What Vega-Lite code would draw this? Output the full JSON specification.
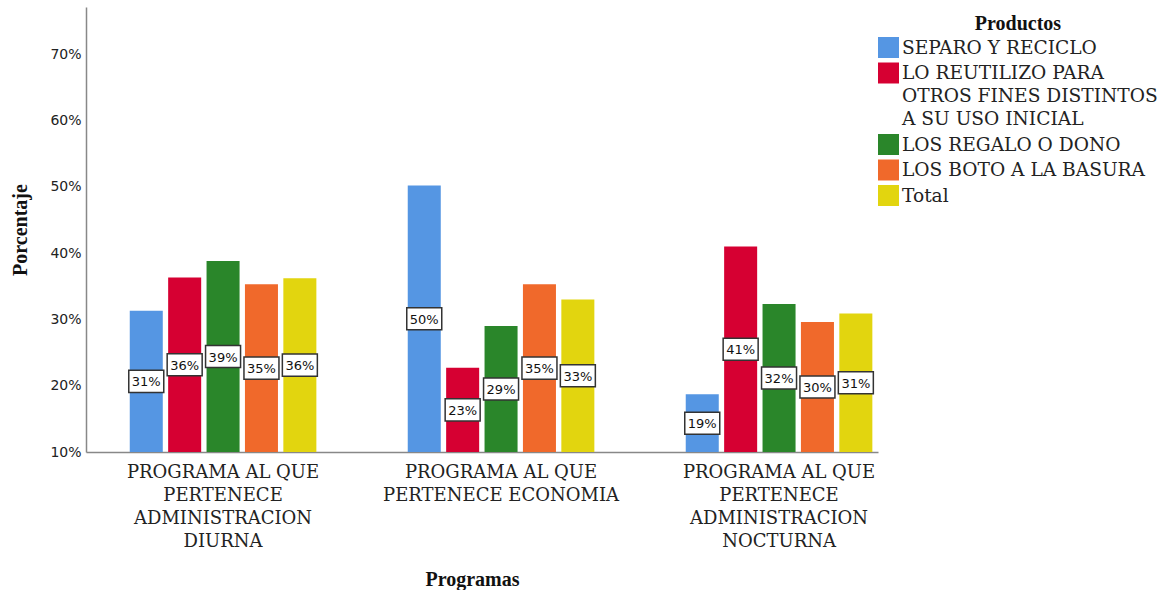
{
  "$schema": "https://vega.github.io/schema/vega-lite/v6.json",
  "width": 792,
  "height": 445,
  "autosize": {"type": "none"},
  "padding": {"left": 86, "top": 7, "right": 288, "bottom": 138},
  "background": "white",
  "config": {
    "view": {"stroke": null},
    "font": "Liberation Serif",
    "axisY": {
      "title": "Porcentaje",
      "titleFont": "Liberation Serif",
      "titleFontSize": 20,
      "titleFontWeight": "bold",
      "titleColor": "#111",
      "titlePadding": 19,
      "format": ".0%",
      "labelFont": "DejaVu Sans",
      "labelFontSize": 14,
      "labelColor": "#222",
      "labelPadding": 5,
      "ticks": false,
      "grid": false,
      "domainColor": "#888",
      "domainWidth": 1.5
    }
  },
  "data": {
    "values": [
      {"Programa": "PROGRAMA AL QUE PERTENECE ADMINISTRACION DIURNA", "Producto": "SEPARO Y RECICLO", "Porcentaje": 0.313},
      {"Programa": "PROGRAMA AL QUE PERTENECE ADMINISTRACION DIURNA", "Producto": "LO REUTILIZO PARA OTROS FINES DISTINTOS A SU USO INICIAL", "Porcentaje": 0.363},
      {"Programa": "PROGRAMA AL QUE PERTENECE ADMINISTRACION DIURNA", "Producto": " LOS REGALO O DONO", "Porcentaje": 0.388},
      {"Programa": "PROGRAMA AL QUE PERTENECE ADMINISTRACION DIURNA", "Producto": "LOS BOTO A LA BASURA", "Porcentaje": 0.353},
      {"Programa": "PROGRAMA AL QUE PERTENECE ADMINISTRACION DIURNA", "Producto": "Total", "Porcentaje": 0.362},
      {"Programa": "PROGRAMA AL QUE PERTENECE ECONOMIA", "Producto": "SEPARO Y RECICLO", "Porcentaje": 0.502},
      {"Programa": "PROGRAMA AL QUE PERTENECE ECONOMIA", "Producto": "LO REUTILIZO PARA OTROS FINES DISTINTOS A SU USO INICIAL", "Porcentaje": 0.227},
      {"Programa": "PROGRAMA AL QUE PERTENECE ECONOMIA", "Producto": " LOS REGALO O DONO", "Porcentaje": 0.290},
      {"Programa": "PROGRAMA AL QUE PERTENECE ECONOMIA", "Producto": "LOS BOTO A LA BASURA", "Porcentaje": 0.353},
      {"Programa": "PROGRAMA AL QUE PERTENECE ECONOMIA", "Producto": "Total", "Porcentaje": 0.330},
      {"Programa": "PROGRAMA AL QUE PERTENECE ADMINISTRACION NOCTURNA", "Producto": "SEPARO Y RECICLO", "Porcentaje": 0.187},
      {"Programa": "PROGRAMA AL QUE PERTENECE ADMINISTRACION NOCTURNA", "Producto": "LO REUTILIZO PARA OTROS FINES DISTINTOS A SU USO INICIAL", "Porcentaje": 0.410},
      {"Programa": "PROGRAMA AL QUE PERTENECE ADMINISTRACION NOCTURNA", "Producto": " LOS REGALO O DONO", "Porcentaje": 0.323},
      {"Programa": "PROGRAMA AL QUE PERTENECE ADMINISTRACION NOCTURNA", "Producto": "LOS BOTO A LA BASURA", "Porcentaje": 0.296},
      {"Programa": "PROGRAMA AL QUE PERTENECE ADMINISTRACION NOCTURNA", "Producto": "Total", "Porcentaje": 0.309}
    ]
  },
  "transform": [{"calculate": "(datum.Porcentaje + 0.1) / 2", "as": "mid"}],
  "encoding": {
    "x": {
      "field": "Programa",
      "type": "nominal",
      "sort": ["PROGRAMA AL QUE PERTENECE ADMINISTRACION DIURNA", "PROGRAMA AL QUE PERTENECE ECONOMIA", "PROGRAMA AL QUE PERTENECE ADMINISTRACION NOCTURNA"],
      "scale": {"paddingInner": 0.3, "paddingOuter": 0.0745, "align": 0.96},
      "axis": {
        "title": "Programas",
        "titleFont": "Liberation Serif",
        "titleFontSize": 20,
        "titleFontWeight": "bold",
        "titleColor": "#111",
        "titlePadding": 19,
        "titleX": 386,
        "labelFont": "DejaVu Serif",
        "labelFontSize": 18,
        "labelColor": "#222",
        "labelLineHeight": 23,
        "labelPadding": 11,
        "labelAngle": 0,
        "labelLimit": 0,
        "ticks": false,
        "domainColor": "#888",
        "domainWidth": 1.5,
        "labelExpr": "datum.label == 'PROGRAMA AL QUE PERTENECE ECONOMIA' ? ['PROGRAMA AL QUE', 'PERTENECE ECONOMIA'] : datum.label == 'PROGRAMA AL QUE PERTENECE ADMINISTRACION DIURNA' ? ['PROGRAMA AL QUE', 'PERTENECE', 'ADMINISTRACION', 'DIURNA'] : ['PROGRAMA AL QUE', 'PERTENECE', 'ADMINISTRACION', 'NOCTURNA']"
      }
    },
    "xOffset": {
      "field": "Producto",
      "type": "nominal",
      "sort": ["SEPARO Y RECICLO", "LO REUTILIZO PARA OTROS FINES DISTINTOS A SU USO INICIAL", " LOS REGALO O DONO", "LOS BOTO A LA BASURA", "Total"],
      "scale": {"paddingInner": 0.14, "paddingOuter": 0.104}
    }
  },
  "layer": [
    {
      "mark": {"type": "bar"},
      "encoding": {
        "y": {
          "field": "Porcentaje",
          "type": "quantitative",
          "title": "Porcentaje",
          "scale": {"domain": [0.1, 0.771], "nice": false, "zero": false},
          "axis": {"values": [0.1, 0.2, 0.3, 0.4, 0.5, 0.6, 0.7], "title": "Porcentaje"}
        },
        "y2": {"datum": 0.1},
        "color": {
          "field": "Producto",
          "type": "nominal",
          "sort": ["SEPARO Y RECICLO", "LO REUTILIZO PARA OTROS FINES DISTINTOS A SU USO INICIAL", " LOS REGALO O DONO", "LOS BOTO A LA BASURA", "Total"],
          "scale": {
            "domain": ["SEPARO Y RECICLO", "LO REUTILIZO PARA OTROS FINES DISTINTOS A SU USO INICIAL", " LOS REGALO O DONO", "LOS BOTO A LA BASURA", "Total"],
            "range": ["#5596e3", "#d60032", "#2a862a", "#f0692b", "#e2d50f"]
          },
          "legend": {
            "orient": "none",
            "legendX": 792,
            "legendY": 7,
            "title": "Productos",
            "titleFont": "Liberation Serif",
            "titleFontSize": 20,
            "titleFontWeight": "bold",
            "titleColor": "#111",
            "titleAnchor": "middle",
            "titlePadding": 3,
            "labelFont": "DejaVu Serif",
            "labelFontSize": 18.6,
            "labelColor": "#222",
            "labelLimit": 400,
            "labelOffset": 3,
            "rowPadding": 4.5,
            "symbolType": "square",
            "symbolSize": 441,
            "symbolStrokeWidth": 0,
            "symbolOpacity": 1,
            "labelExpr": "datum.label == 'LO REUTILIZO PARA OTROS FINES DISTINTOS A SU USO INICIAL' ? ['LO REUTILIZO PARA', 'OTROS FINES DISTINTOS', 'A SU USO INICIAL'] : datum.label",
            "encode": {"labels": {"update": {"lineHeight": {"value": 23}}}}
          }
        }
      }
    },
    {
      "mark": {"type": "point", "shape": "M-1,-0.63H1V0.63H-1Z", "filled": true, "fill": "white", "stroke": "#333", "strokeWidth": 1.5, "size": 1225, "opacity": 1},
      "encoding": {
        "y": {"field": "mid", "type": "quantitative", "title": "Porcentaje", "axis": {"values": [0.1, 0.2, 0.3, 0.4, 0.5, 0.6, 0.7], "title": "Porcentaje"}}
      }
    },
    {
      "mark": {"type": "text", "font": "DejaVu Sans", "fontSize": 13, "color": "#111", "baseline": "middle", "dy": 1},
      "encoding": {
        "y": {"field": "mid", "type": "quantitative", "title": "Porcentaje", "axis": {"values": [0.1, 0.2, 0.3, 0.4, 0.5, 0.6, 0.7], "title": "Porcentaje"}},
        "text": {"field": "Porcentaje", "type": "quantitative", "format": ".0%"}
      }
    }
  ]
}
